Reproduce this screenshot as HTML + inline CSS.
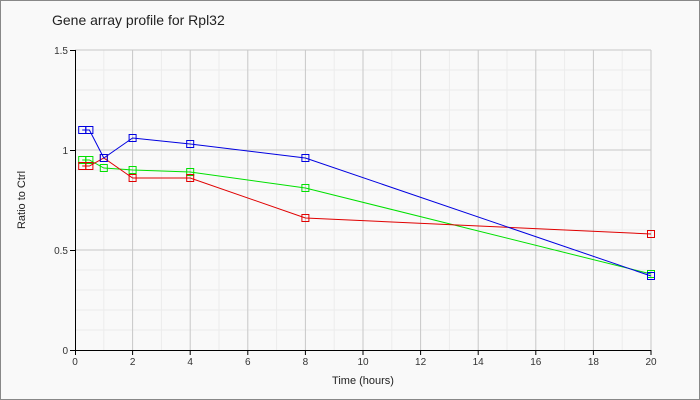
<!DOCTYPE html>
<html><head><style>body{margin:0;background:#fff}svg{display:block;font-family:"Liberation Sans",sans-serif}</style></head><body>
<svg width="700" height="400" xmlns="http://www.w3.org/2000/svg">
<rect x="0.5" y="0.5" width="699" height="399" fill="#f9f9f9" stroke="#888"/>
<text x="52" y="25" font-size="14" fill="#222">Gene array profile for Rpl32</text>
<path d="M103.8 50V350M161.4 50V350M219 50V350M276.6 50V350M334.2 50V350M391.8 50V350M449.4 50V350M507 50V350M564.6 50V350M622.2 50V350M75 70H651M75 90H651M75 110H651M75 130H651M75 170H651M75 190H651M75 210H651M75 230H651M75 270H651M75 290H651M75 310H651M75 330H651" stroke="#ececec" stroke-width="1"/>
<path d="M132.6 50V350M190.2 50V350M247.8 50V350M305.4 50V350M363 50V350M420.6 50V350M478.2 50V350M535.8 50V350M593.4 50V350M651 50V350M75 50H651M75 150H651M75 250H651" stroke="#c8c8c8" stroke-width="1"/>
<path d="M75.5 50V350.5H651M70 50.5H75M70 150.5H75M70 250.5H75M70 350.5H75M75.5 350V355M132.6 350V355M190.2 350V355M247.8 350V355M305.4 350V355M363 350V355M420.6 350V355M478.2 350V355M535.8 350V355M593.4 350V355M651 350V355" stroke="#000" stroke-width="1" fill="none"/>
<g font-size="10" fill="#333" text-anchor="end"><text x="68" y="54">1.5</text><text x="68" y="154">1</text><text x="68" y="254">0.5</text><text x="68" y="354">0</text></g>
<g font-size="10" fill="#333" text-anchor="middle"><text x="75" y="365">0</text><text x="132.6" y="365">2</text><text x="190.2" y="365">4</text><text x="247.8" y="365">6</text><text x="305.4" y="365">8</text><text x="363" y="365">10</text><text x="420.6" y="365">12</text><text x="478.2" y="365">14</text><text x="535.8" y="365">16</text><text x="593.4" y="365">18</text><text x="651" y="365">20</text></g>
<text x="363" y="384" font-size="11" fill="#222" text-anchor="middle">Time (hours)</text>
<text transform="translate(25,200) rotate(-90)" font-size="11" fill="#222" text-anchor="middle">Ratio to Ctrl</text>
<g fill="none" stroke-width="1">
<polyline stroke="#00e000" points="82.2,160 89.4,160 103.8,168 132.6,170 190.2,172 305.4,188 651,274"/>
<polyline stroke="#e00000" points="82.2,166 89.4,166 103.8,158 132.6,178 190.2,178 305.4,218 651,234"/>
<polyline stroke="#0000e0" points="82.2,130 89.4,130 103.8,158 132.6,138 190.2,144 305.4,158 651,276"/>
<g stroke="#00e000"><rect x="78.7" y="156.5" width="7" height="7"/><rect x="85.9" y="156.5" width="7" height="7"/><rect x="100.3" y="164.5" width="7" height="7"/><rect x="129.1" y="166.5" width="7" height="7"/><rect x="186.7" y="168.5" width="7" height="7"/><rect x="301.9" y="184.5" width="7" height="7"/><rect x="647.5" y="270.5" width="7" height="7"/></g>
<g stroke="#e00000"><rect x="78.7" y="162.5" width="7" height="7"/><rect x="85.9" y="162.5" width="7" height="7"/><rect x="100.3" y="154.5" width="7" height="7"/><rect x="129.1" y="174.5" width="7" height="7"/><rect x="186.7" y="174.5" width="7" height="7"/><rect x="301.9" y="214.5" width="7" height="7"/><rect x="647.5" y="230.5" width="7" height="7"/></g>
<g stroke="#0000e0"><rect x="78.7" y="126.5" width="7" height="7"/><rect x="85.9" y="126.5" width="7" height="7"/><rect x="100.3" y="154.5" width="7" height="7"/><rect x="129.1" y="134.5" width="7" height="7"/><rect x="186.7" y="140.5" width="7" height="7"/><rect x="301.9" y="154.5" width="7" height="7"/><rect x="647.5" y="272.5" width="7" height="7"/></g>
</g>
</svg>
</body></html>
